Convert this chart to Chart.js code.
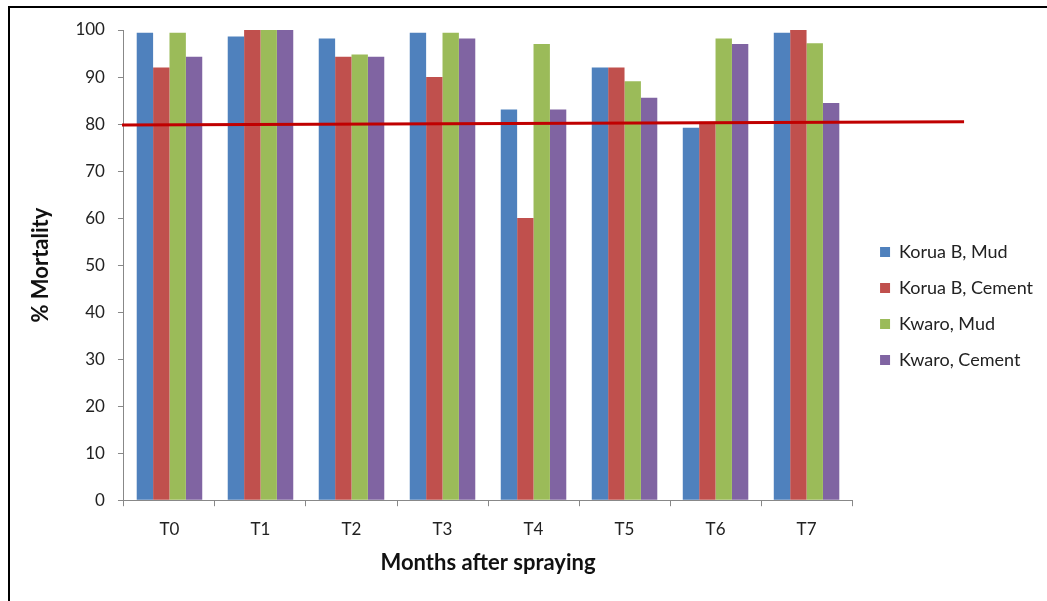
<!DOCTYPE html>
<html>
<head>
<meta charset="utf-8">
<script src="https://cdn.jsdelivr.net/npm/chart.js@4/dist/chart.umd.min.js"></script>
<style>
  html, body { margin: 0; padding: 0; background: #fff; overflow: hidden; }
  #frame {
    position: absolute; left: 8px; top: 6px; width: 1100px; height: 700px;
    border-top: 2px solid #000; border-left: 2px solid #000;
  }
  #wrap { position: absolute; left: 0; top: 0; width: 1047px; height: 601px; }
</style>
</head>
<body>
<div id="frame"></div>
<div id="wrap"><canvas id="chart"></canvas></div>
<script>
// ================= DATA =================
const months = ["T0", "T1", "T2", "T3", "T4", "T5", "T6", "T7"];

const koruaMud    = [99.4, 98.6, 98.2, 99.4, 83.1, 92.0, 79.2, 99.4];
const koruaCement = [92.0, 100,  94.3, 90.0, 60.0, 92.0, 80.5, 100];
const kwaroMud    = [99.4, 100,  94.8, 99.4, 97.0, 89.1, 98.2, 97.2];
const kwaroCement = [94.3, 100,  94.3, 98.2, 83.1, 85.6, 97.0, 84.5];

const yTicks = [0, 10, 20, 30, 40, 50, 60, 70, 80, 90, 100];

// red reference line (value at left of plot, value at its right end)
const refLine = [79.8, 80.5];

// ================= CHART =================
const FONT = "Lato, 'Open Sans', sans-serif";

const refLinePlugin = {
  id: "refLine",
  afterDatasetsDraw(chart) {
    const { ctx, chartArea, scales } = chart;
    const y = scales.y;
    const x0 = chartArea.left - 2;
    const x1 = chartArea.right + 112;
    ctx.save();
    ctx.strokeStyle = "#c00000";
    ctx.lineWidth = 3;
    ctx.beginPath();
    ctx.moveTo(x0, y.getPixelForValue(refLine[0]));
    ctx.lineTo(x1, y.getPixelForValue(refLine[1]));
    ctx.stroke();
    ctx.restore();
  }
};

// nudge the legend a little away from the plot, like the original
const legendNudge = {
  id: "legendNudge",
  afterLayout(chart) {
    const lg = chart.legend;
    if (!lg) return;
    lg.left += 10; lg.right += 10;
    lg.top += 3; lg.bottom += 3;
  }
};

const ctx = document.getElementById("chart").getContext("2d");

new Chart(ctx, {
  type: "bar",
  data: {
    labels: months,
    datasets: [
      { label: "Korua B, Mud", data: koruaMud, backgroundColor: "#4f81bd" },
      { label: "Korua B, Cement", data: koruaCement, backgroundColor: "#c0504d" },
      { label: "Kwaro, Mud", data: kwaroMud, backgroundColor: "#9bbb59" },
      { label: "Kwaro, Cement", data: kwaroCement, backgroundColor: "#8064a2" }
    ]
  },
  options: {
    responsive: true,
    maintainAspectRatio: false,
    animation: false,
    datasets: {
      bar: { barPercentage: 1, categoryPercentage: 0.72, borderWidth: 0 }
    },
    layout: { padding: { left: 28, top: 30, right: 14, bottom: 25 } },
    plugins: {
      tooltip: { enabled: false },
      legend: {
        position: "right",
        labels: {
          boxWidth: 10, boxHeight: 10, padding: 18,
          color: "#222",
          font: { family: FONT, size: 18 }
        }
      }
    },
    scales: {
      x: {
        grid: { display: true, drawOnChartArea: false, color: "#888", tickLength: 6, offset: true },
        border: { color: "#888" },
        ticks: { color: "#222", font: { family: FONT, size: 17 }, padding: 13 },
        title: {
          display: true, text: "Months after spraying", color: "#111",
          font: { family: FONT, size: 22, weight: "bold" }, padding: { top: -3, bottom: 0 }
        }
      },
      y: {
        min: 0, max: 100,
        afterBuildTicks(axis) { axis.ticks = yTicks.map(v => ({ value: v })); },
        grid: { display: true, drawOnChartArea: false, color: "#888", tickLength: 6 },
        border: { color: "#888" },
        ticks: { color: "#222", font: { family: FONT, size: 17 }, padding: 13 },
        title: {
          display: true, text: "% Mortality", color: "#111",
          font: { family: FONT, size: 22, weight: "bold" }, padding: { top: 0, bottom: 8 }
        }
      }
    }
  },
  plugins: [refLinePlugin, legendNudge]
});
</script>
</body>
</html>
